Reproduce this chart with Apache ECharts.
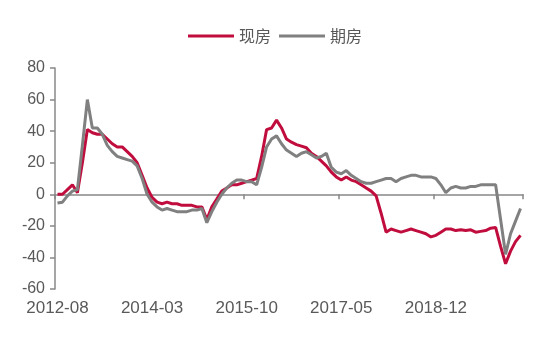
<!DOCTYPE html>
<html><head><meta charset="utf-8">
<script src="https://cdn.jsdelivr.net/npm/echarts@6/dist/echarts.min.js"></script>
<style>html,body{margin:0;padding:0;background:#fff}#c{width:550px;height:340px}</style>
</head><body><div id="c"></div>
<script>
const categories = [
'2012-08','2012-09','2012-10','2012-11','2012-12',
'2013-01','2013-02','2013-03','2013-04','2013-05','2013-06','2013-07','2013-08','2013-09','2013-10','2013-11','2013-12',
'2014-01','2014-02','2014-03','2014-04','2014-05','2014-06','2014-07','2014-08','2014-09','2014-10','2014-11','2014-12',
'2015-01','2015-02','2015-03','2015-04','2015-05','2015-06','2015-07','2015-08','2015-09','2015-10','2015-11','2015-12',
'2016-01','2016-02','2016-03','2016-04','2016-05','2016-06','2016-07','2016-08','2016-09','2016-10','2016-11','2016-12',
'2017-01','2017-02','2017-03','2017-04','2017-05','2017-06','2017-07','2017-08','2017-09','2017-10','2017-11','2017-12',
'2018-01','2018-02','2018-03','2018-04','2018-05','2018-06','2018-07','2018-08','2018-09','2018-10','2018-11','2018-12',
'2019-01','2019-02','2019-03','2019-04','2019-05','2019-06','2019-07','2019-08','2019-09','2019-10','2019-11','2019-12',
'2020-01','2020-02','2020-03','2020-04','2020-05'
];
const seriesNames = ['现房','期房'];
const xianfang = [
0, 0, 3, 6, 1, 20, 41, 39, 38, 38,
35, 32, 30, 30, 27, 24, 20, 12, 4, -2,
-5, -6, -5, -6, -6, -7, -7, -7, -8, -8,
-16, -8, -3, 2, 4, 6, 6, 7, 8, 9,
10, 24, 41, 42, 47, 42, 35, 33, 31.5, 30.5,
29.5, 26, 24, 21, 18, 14, 11, 9, 11, 9,
8, 6, 4, 2, -1, -12, -24, -22, -23, -24,
-23, -22, -23, -24, -25, -27, -26, -24, -22, -22,
-23, -22.5, -23, -22.5, -24, -23.5, -23, -21.5, -21, -33,
-44, -36, -30, -26
];
const qifang = [
-5.5, -5, -1, 2, 3, 31, 60, 42, 42, 38,
31, 27, 24, 23, 22, 21, 18, 10, 0, -5,
-8, -10, -9, -10, -11, -11, -11, -10, -10, -9,
-18, -11, -5, 0, 4, 7, 9, 9, 8, 8,
6, 17, 30, 35, 37, 32, 28, 26, 24, 26,
27, 25, 23, 24, 26, 17, 14, 13, 15, 12,
10, 8, 7, 7, 8, 9, 10, 10, 8, 10,
11, 12, 12, 11, 11, 11, 10, 6, 1, 4,
5, 4, 4, 5, 5, 6, 6, 6, 6, -16,
-38, -25, -17, -9
];
const yTickValues = [-60, -40, -20, 0, 20, 40, 60, 80];

const axisColor = '#888888';
const textColor = '#595959';
const chart = echarts.init(document.getElementById('c'), null, {renderer: 'canvas'});
chart.setOption({
  animation: false,
  backgroundColor: '#ffffff',
  textStyle: {fontFamily: '"Liberation Sans", Arial, sans-serif'},
  legend: {
    top: 23, left: 'center', itemWidth: 46, itemHeight: 3, itemGap: 8, icon: 'rect',
    data: seriesNames,
    textStyle: {fontFamily: '"Noto Sans CJK SC", sans-serif', fontSize: 16, color: textColor}
  },
  grid: {left: 55, right: 27, top: 68, bottom: 51, containLabel: false},
  xAxis: [
    {
      type: 'category', data: categories, boundaryGap: true, position: 'bottom',
      axisLine: {onZero: true, lineStyle: {color: axisColor, width: 1.5}},
      axisTick: {show: true, interval: 18, length: 5, lineStyle: {color: axisColor, width: 1.5}},
      axisLabel: {show: false}, splitLine: {show: false}
    },
    {
      type: 'category', data: categories, boundaryGap: true, position: 'bottom',
      axisLine: {show: false, onZero: false}, axisTick: {show: false}, splitLine: {show: false},
      axisLabel: {interval: 18, margin: 11, fontSize: 17, color: textColor, fontFamily: '"Liberation Sans", Arial, sans-serif'}
    }
  ],
  yAxis: {
    type: 'value', min: yTickValues[0], max: yTickValues[yTickValues.length - 1], interval: 20,
    axisLine: {show: true, lineStyle: {color: axisColor, width: 1.5}},
    axisTick: {show: true, length: 5, lineStyle: {color: axisColor, width: 1.5}},
    axisLabel: {fontSize: 16, color: textColor, margin: 10, fontFamily: '"Liberation Sans", Arial, sans-serif'},
    splitLine: {show: false}
  },
  series: [
    {name: seriesNames[0], type: 'line', xAxisIndex: 0, data: xianfang, symbol: 'none', showSymbol: false,
     lineStyle: {width: 3, color: '#C00D3D'}, itemStyle: {color: '#C00D3D'}},
    {name: seriesNames[1], type: 'line', xAxisIndex: 0, data: qifang, symbol: 'none', showSymbol: false,
     lineStyle: {width: 3, color: '#808080'}, itemStyle: {color: '#808080'}}
  ]
});
</script>
</body></html>
